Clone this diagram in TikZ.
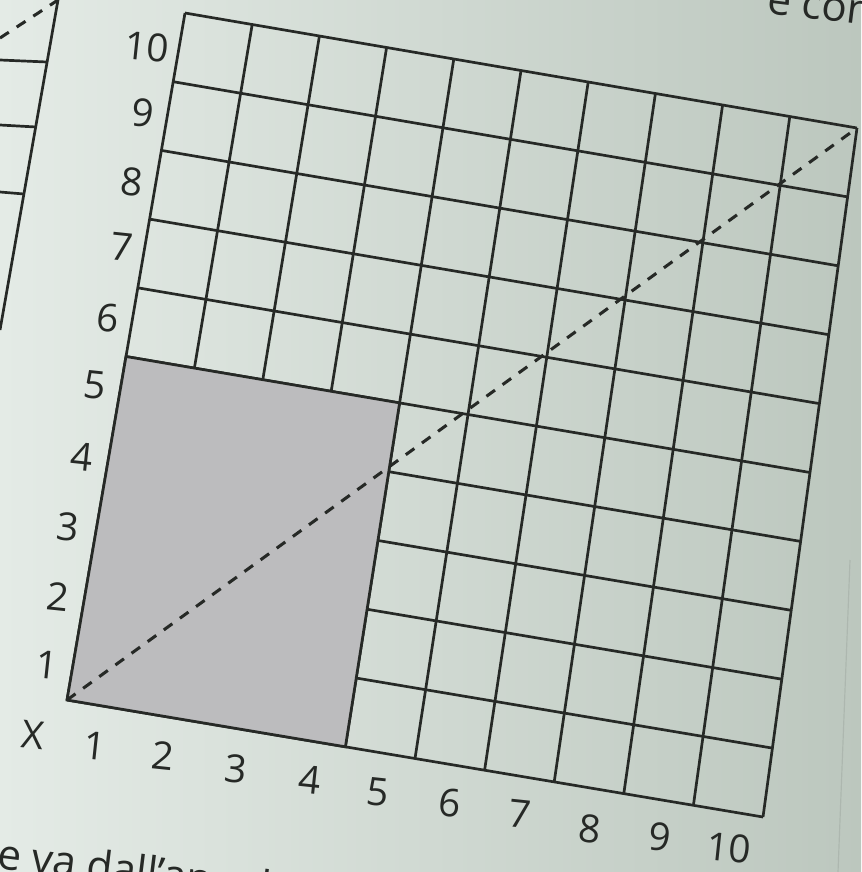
\documentclass[tikz,border=0pt]{standalone}
\usepackage{fontspec}
\setmainfont{Open Sans}
\usetikzlibrary{calc}
\definecolor{Page}{HTML}{E4EBE6}
\definecolor{PageDark}{HTML}{BCC7BE}
\definecolor{Ink}{HTML}{262926}
\definecolor{Shade}{HTML}{BCBCBE}

\begin{document}
\begin{tikzpicture}[x=0.03cm,y=-0.03cm,
gridline/.style={line width=2.3pt,draw=Ink},
diag/.style={line width=2.6pt,draw=Ink,dash pattern=on 9pt off 8pt},
num/.style={font=\fontsize{33}{33}\selectfont,text=Ink,rotate=-6,inner sep=0pt},
pagetext/.style={font=\fontsize{36}{36}\selectfont,text=Ink,rotate=-7,inner sep=0pt}]
\useasboundingbox (0,0) rectangle (861,872);
\clip (0,0) rectangle (861,872);
\shade[left color=Page,right color=PageDark] (0,0) rectangle (861,872);
% neighbouring figure and page edge
\draw[gridline] (58,0) -- (0,330);
\draw[gridline] (0,60) -- (47,62);
\draw[gridline] (0,125) -- (36,127);
\draw[gridline] (0,192) -- (24,194);
\draw[diag] (0,38) -- (58,0);
\draw[line width=1pt,draw=PageDark!80!black,opacity=.4] (850,560) -- (838,872);
% corners of the square
\coordinate (O) at (67,700);
\coordinate (B) at (763,817);
\coordinate (T) at (185,13);
\coordinate (R) at (857,128);
% grid
\foreach \i in {0,...,10}{
  \draw[gridline] ($(O)!{\i/10}!(B)$) -- ($(T)!{\i/10}!(R)$);
  \draw[gridline] ($(O)!{\i/10}!(T)$) -- ($(B)!{\i/10}!(R)$);
}
% shaded part
\coordinate (sb) at ($(O)!0.4!(B)$);
\coordinate (sl) at ($(O)!0.5!(T)$);
\coordinate (sc) at ($ ($(O)!0.4!(B)$)!0.5!($(T)!0.4!(R)$) $);
\fill[Shade] (O) -- (sb) -- (sc) -- (sl) -- cycle;
\draw[gridline] (O) -- (sb) -- (sc) -- (sl) -- cycle;
% diagonal
\draw[diag] (O) -- (R);
% labels
\foreach \n/\x/\y in {1/47/665,2/58/597,3/68/527,4/82/457,5/95/385,
  6/108/318,7/122/247,8/132/182,9/143/113,10/147/47}
  \node[num] (r\n) at (\x,\y) {\n};
\foreach \n/\x/\y in {1/95/746,2/163/756,3/236/769,4/310/780,5/378/792,
  6/450/803,7/520/814,8/590/829,9/660/837,10/729/848}
  \node[num] (c\n) at (\x,\y) {\n};
\node[num] (xlab) at (33,735) {X};
\node[pagetext,anchor=base west] (below) at (-4,868) {e va dall’angolo};
\node[pagetext,anchor=base west] (above) at (766,13) {e con l};
\end{tikzpicture}
\end{document}
